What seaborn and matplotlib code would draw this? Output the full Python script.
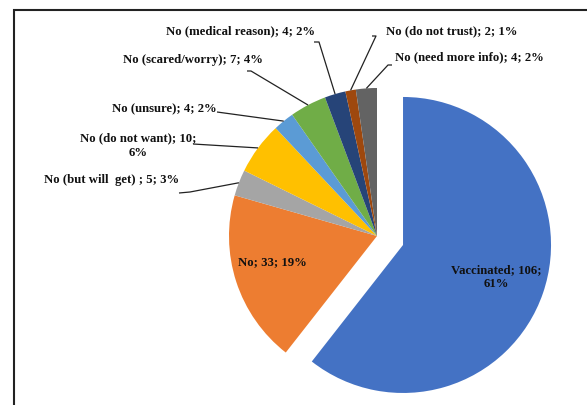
import numpy as np
import matplotlib
matplotlib.use("Agg")
import matplotlib.pyplot as plt
import seaborn as sns
from matplotlib.patches import Rectangle

sns.set_theme(style="white")
plt.rcParams['font.family'] = ['Liberation Serif', 'DejaVu Serif']

categories = ["Vaccinated", "No", "No (but will  get) ", "No (do not want)", "No (unsure)",
              "No (scared/worry)", "No (medical reason)", "No (do not trust)", "No (need more info)"]
counts = [106, 33, 5, 10, 4, 7, 4, 2, 4]
percent_labels = ["61%", "19%", "3%", "6%", "2%", "4%", "2%", "1%", "2%"]
colors = ["#4472C4", "#ED7D31", "#A5A5A5", "#FFC000", "#5B9BD5",
          "#70AD47", "#264478", "#9E480E", "#636363"]

W, H = 587, 405
CX, CY, RX, RY = 377, 236, 148, 148

fig = plt.figure(figsize=(W / 100, H / 100), dpi=100)
ax = fig.add_axes([0, 0, 1, 1])

def px(x, y):
    return ((x - CX) / RX, (CY - y) / RY)

explode = [0.186] + [0] * (len(counts) - 1)
wedges, _ = ax.pie(counts, colors=colors, startangle=90, counterclock=False,
                   explode=explode, radius=1, wedgeprops=dict(linewidth=0))
ax.set_aspect('auto')
ax.set_xlim(px(0, 0)[0], px(W, 0)[0])
ax.set_ylim(px(0, H)[1], px(0, 0)[1])
ax.axis('off')

total = sum(counts)
cum = np.cumsum([0] + counts)

def wedge_point(i, r=1.0):
    ang = np.deg2rad((cum[i] + counts[i] / 2) / total * 360)
    return (r * np.sin(ang), r * np.cos(ang))

fs = 9.2
tc = "#111111"

# inside labels
ax.text(*px(272, 262), f"{categories[1]}; {counts[1]}; {percent_labels[1]}",
        ha='center', va='center', fontsize=fs, fontweight='bold', color=tc)
ax.text(*px(496, 277), f"{categories[0]}; {counts[0]};\n{percent_labels[0]}",
        ha='center', va='center', fontsize=fs, fontweight='bold', color=tc,
        linespacing=1.3)

# outside labels: (index, text center px, leader start px list)
outside = [
    (2, (112, 180), [(179, 193), (190, 192)]),
    (3, (138, 146), [(193, 144)]),
    (4, (164, 109), [(217, 112)]),
    (5, (193, 60), [(247, 71), (251, 71)]),
    (6, (241, 31), [(314, 42), (319, 42)]),
    (7, (452, 31), [(372, 36), (376, 36)]),
    (8, (469, 57), [(392, 65), (388, 65)]),
]
for i, (tx, ty), pts in outside:
    if i == 3:
        txt = f"{categories[i]}; {counts[i]};\n{percent_labels[i]}"
    else:
        txt = f"{categories[i]}; {counts[i]}; {percent_labels[i]}"
    ax.text(*px(tx, ty), txt, ha='center', va='center', fontsize=fs,
            fontweight='bold', color=tc, linespacing=1.3)
    xs = [px(*p)[0] for p in pts] + [wedge_point(i)[0]]
    ys = [px(*p)[1] for p in pts] + [wedge_point(i)[1]]
    ax.plot(xs, ys, color="#222222", lw=0.9, solid_capstyle='butt')

# frame
fig.patches.append(Rectangle((14 / W, -0.05), 1.0, (H - 9.5) / H + 0.05,
                             transform=fig.transFigure, fill=False,
                             edgecolor="#222222", linewidth=1.5))

fig.savefig("out.png", dpi=100, facecolor="white")
